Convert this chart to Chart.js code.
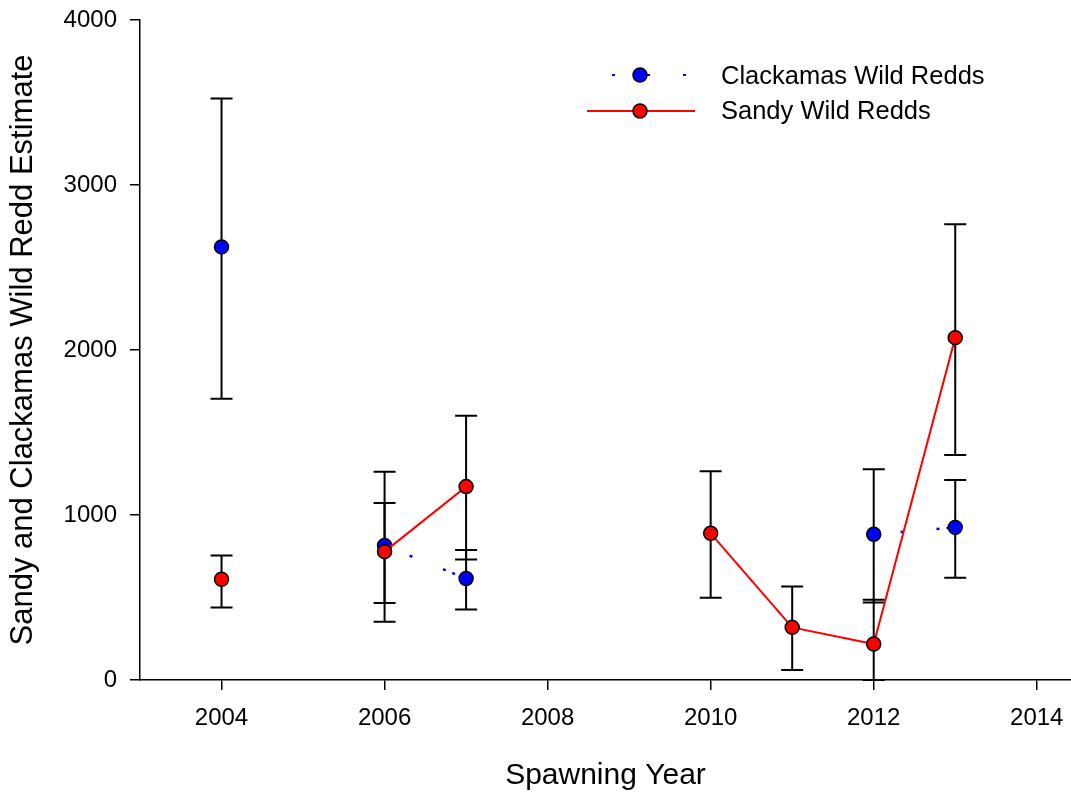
<!DOCTYPE html>
<html>
<head>
<meta charset="utf-8">
<title>Sandy and Clackamas Wild Redd Estimate</title>
<script src="https://cdn.jsdelivr.net/npm/chart.js@4.4.1/dist/chart.umd.min.js"></script>
<style>
  html, body { margin: 0; padding: 0; background: #fff; }
  #chart { display: block; }
</style>
</head>
<body>
<canvas id="chart" width="1071" height="792"></canvas>
<script>
// Data
const years = [2004, 2005, 2006, 2007, 2008, 2009, 2010, 2011, 2012, 2013];
const clackamas = [2625, null, 815, 615, null, null, null, null, 883, 925];
const clackamasLow = [1705, null, 353, 428, null, null, null, null, 469, 620];
const clackamasHigh = [3525, null, 1262, 788, null, null, null, null, 1277, 1212];
const sandy = [610, null, 778, 1172, null, null, 889, 319, 218, 2075];
const sandyLow = [440, null, 466, 730, null, null, 499, 61, 0, 1364];
const sandyHigh = [755, null, 1072, 1602, null, null, 1265, 566, 487, 2762];
const xTicks = [2004, 2006, 2008, 2010, 2012, 2014];
const yTicks = [0, 1000, 2000, 3000, 4000];

const FONT = "'Liberation Sans', Arial, sans-serif";

const toPoints = vals => years.map((yr, i) => ({ x: yr, y: vals[i] }));

// Error bars, drawn under the markers
const errorBars = {
  id: 'errorBars',
  beforeDatasetsDraw(chart) {
    const { ctx, scales: { x, y } } = chart;
    const sets = [[clackamas, clackamasLow, clackamasHigh], [sandy, sandyLow, sandyHigh]];
    ctx.save();
    ctx.strokeStyle = '#000';
    ctx.lineWidth = 2;
    sets.forEach(([vals, low, high]) => {
      vals.forEach((v, i) => {
        if (v === null) return;
        const px = x.getPixelForValue(years[i]);
        const yLo = y.getPixelForValue(low[i]);
        const yHi = y.getPixelForValue(high[i]);
        ctx.beginPath();
        ctx.moveTo(px, yLo);
        ctx.lineTo(px, yHi);
        ctx.moveTo(px - 11, yLo);
        ctx.lineTo(px + 11, yLo);
        ctx.moveTo(px - 11, yHi);
        ctx.lineTo(px + 11, yHi);
        ctx.stroke();
      });
    });
    ctx.restore();
  }
};

// Legend drawn by hand: line sample + marker + label
const sampleLegend = {
  id: 'sampleLegend',
  afterDraw(chart) {
    const ctx = chart.ctx;
    const marker = (cx, cy, fill) => {
      ctx.beginPath();
      ctx.arc(cx, cy, 7, 0, Math.PI * 2);
      ctx.fillStyle = fill;
      ctx.fill();
      ctx.lineWidth = 1.5;
      ctx.strokeStyle = '#000';
      ctx.stroke();
    };
    ctx.save();
    // Clackamas: sparse dotted blue
    ctx.fillStyle = '#0000ff';
    [612, 647, 683].forEach(dx => ctx.fillRect(dx, 74, 3, 2));
    marker(640, 75, '#0000ff');
    // Sandy: solid red
    ctx.strokeStyle = '#ff0000';
    ctx.lineWidth = 2;
    ctx.beginPath();
    ctx.moveTo(587, 111);
    ctx.lineTo(695, 111);
    ctx.stroke();
    marker(640, 111, '#ff0000');
    ctx.fillStyle = '#000';
    ctx.font = '25.5px ' + FONT;
    ctx.textBaseline = 'middle';
    ctx.textAlign = 'left';
    ctx.fillText('Clackamas Wild Redds', 721, 77);
    ctx.fillText('Sandy Wild Redds', 721, 112);
    ctx.restore();
  }
};

new Chart(document.getElementById('chart'), {
  type: 'line',
  data: {
    datasets: [
      {
        label: 'Sandy Wild Redds',
        data: toPoints(sandy),
        borderColor: '#ff0000',
        borderWidth: 2,
        backgroundColor: '#ff0000',
        pointBackgroundColor: '#ff0000',
        pointBorderColor: '#000',
        pointBorderWidth: 1.5,
        pointRadius: 7,
        spanGaps: false,
        order: 0
      },
      {
        label: 'Clackamas Wild Redds',
        data: toPoints(clackamas),
        borderColor: '#0000ff',
        borderWidth: 2.5,
        borderDash: [3, 24, 3, 33, 3, 7, 3, 200],
        backgroundColor: '#0000ff',
        pointBackgroundColor: '#0000ff',
        pointBorderColor: '#000',
        pointBorderWidth: 1.5,
        pointRadius: 7,
        spanGaps: false,
        order: 1
      }
    ]
  },
  options: {
    responsive: false,
    animation: false,
    devicePixelRatio: 1,
    layout: { autoPadding: false, padding: { top: 20, right: 0, bottom: 0, left: 0 } },
    plugins: {
      legend: { display: false },
      tooltip: { enabled: false }
    },
    scales: {
      x: {
        type: 'linear',
        min: 2003,
        max: 2014.42,
        afterBuildTicks: s => { s.ticks = xTicks.map(v => ({ value: v })); },
        afterFit: s => { s.height = 112; s.paddingLeft = 0; s.paddingRight = 0; },
        grid: { drawOnChartArea: false, drawTicks: true, tickLength: 10, color: '#000', lineWidth: 1.5 },
        border: { display: true, color: '#000', width: 1.5 },
        ticks: {
          color: '#000',
          font: { family: FONT, size: 24 },
          padding: 14,
          maxRotation: 0,
          callback: v => String(v)
        },
        title: {
          display: true,
          text: 'Spawning Year',
          color: '#000',
          font: { family: FONT, size: 30, lineHeight: 1 },
          padding: { top: 0, bottom: 1 }
        }
      },
      y: {
        min: 0,
        max: 4000,
        afterBuildTicks: s => { s.ticks = yTicks.map(v => ({ value: v })); },
        afterFit: s => { s.width = 140; s.paddingTop = 0; s.paddingBottom = 0; },
        grid: { drawOnChartArea: false, drawTicks: true, tickLength: 10, color: '#000', lineWidth: 1.5 },
        border: { display: true, color: '#000', width: 1.5 },
        ticks: {
          color: '#000',
          font: { family: FONT, size: 24 },
          padding: 13,
          callback: v => String(v)
        },
        title: {
          display: true,
          text: 'Sandy and Clackamas Wild Redd Estimate',
          color: '#000',
          font: { family: FONT, size: 31, lineHeight: 1 },
          padding: { top: 8, bottom: 0 }
        }
      }
    }
  },
  plugins: [errorBars, sampleLegend]
});
</script>
</body>
</html>
